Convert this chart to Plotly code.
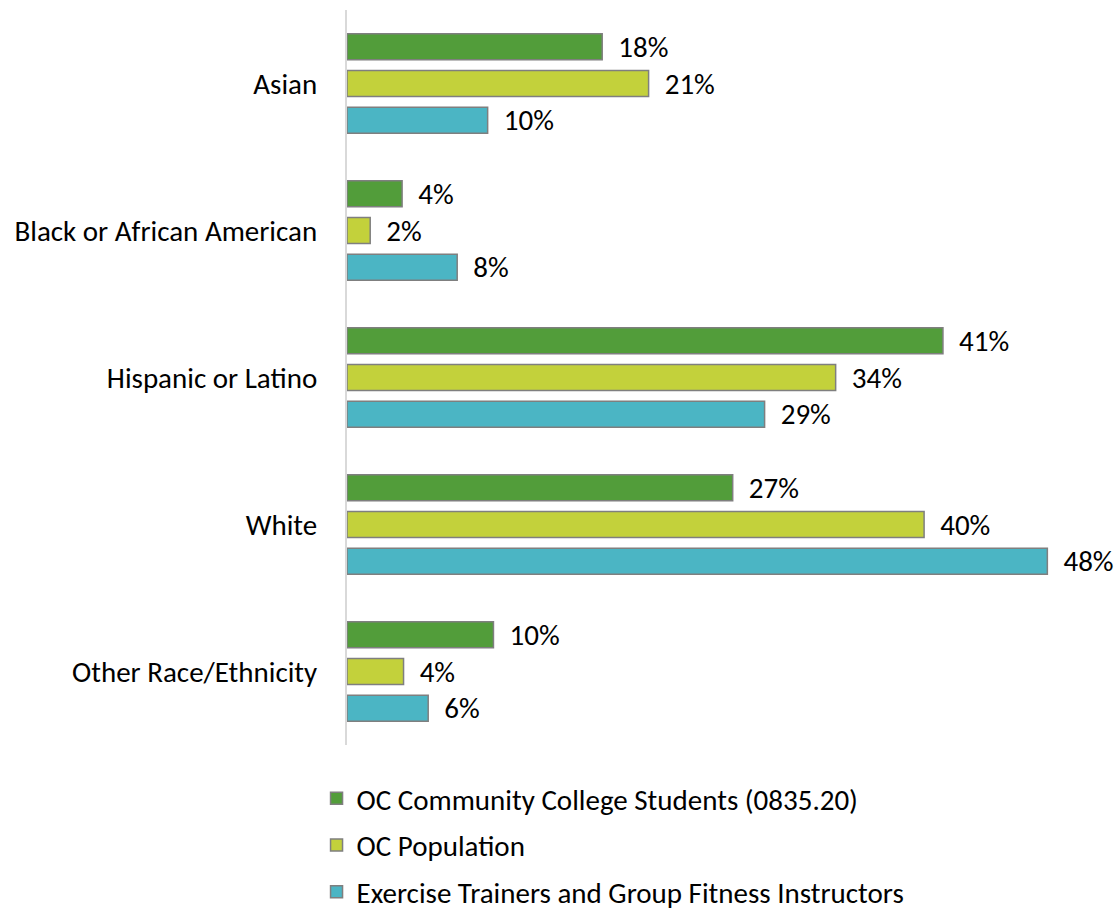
import plotly.graph_objects as go

categories = ["Asian", "Black or African American", "Hispanic or Latino", "White", "Other Race/Ethnicity"]
series_names = [
    "OC Community College Students (0835.20)",
    "OC Population",
    "Exercise Trainers and Group Fitness Instructors",
]
students = [17.6, 3.8, 41.1, 26.6, 10.1]
population = [20.8, 1.6, 33.7, 39.8, 3.9]
trainers = [9.7, 7.6, 28.8, 48.3, 5.6]
colors = ["#529D3A", "#C3D13B", "#4BB5C4"]

FONT = "Carlito, Calibri, 'Open Sans', sans-serif"
FS = 29

fig = go.Figure()
for i, (name, vals, col) in enumerate(zip(series_names, [students, population, trainers], colors)):
    fig.add_trace(go.Bar(
        y=categories, x=vals, name=name, orientation="h",
        marker=dict(color=col, line=dict(color="#7F7F7F", width=1.5)),
        text=["\u00a0\u00a0" + f"{round(v)}%" for v in vals],
        textposition="outside", cliponaxis=False, constraintext="none",
        textfont=dict(size=FS, color="#000000", family=FONT),
        legendgroup=str(i), hoverinfo="skip",
    ))

fig.update_layout(
    width=1118, height=915,
    margin=dict(l=347, r=46, t=10, b=170, autoexpand=False),
    paper_bgcolor="white", plot_bgcolor="white",
    barmode="group", bargap=0.25, bargroupgap=0.29,
    font=dict(family=FONT, size=FS, color="#000000"),
    showlegend=True,
    legend=dict(orientation="v", x=-0.042, xanchor="left", y=-0.038, yanchor="top",
                traceorder="grouped", tracegroupgap=6, itemwidth=30,
                font=dict(size=FS, family=FONT, color="#000000")),
    xaxis=dict(range=[0, 50], visible=False, showgrid=False, zeroline=False),
    yaxis=dict(autorange="reversed", showline=True, linecolor="#D9D9D9", linewidth=2,
               ticks="", ticklabelstandoff=22, showgrid=False,
               tickfont=dict(size=FS, family=FONT, color="#000000")),
)

fig.write_html("out.html")
